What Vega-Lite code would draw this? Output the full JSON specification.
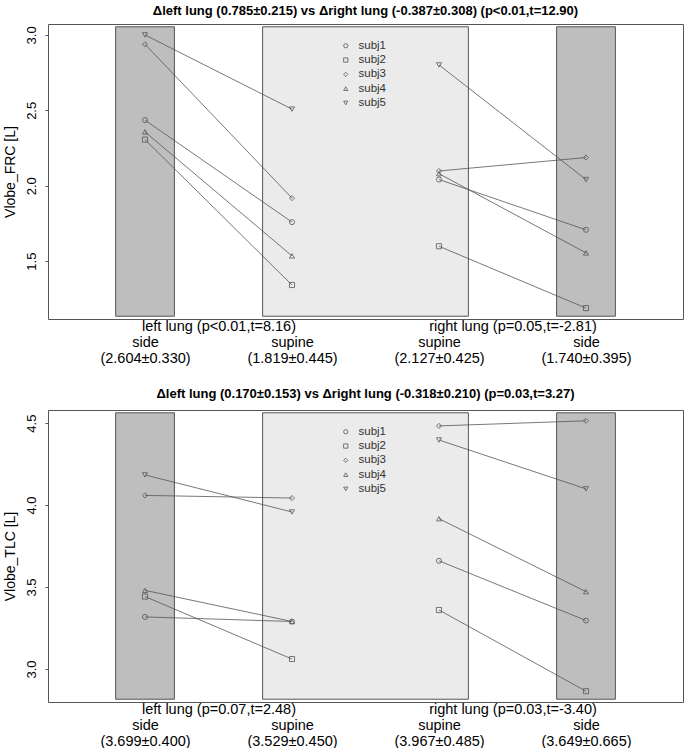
{
  "$schema": "https://vega.github.io/schema/vega-lite/v6.json",
  "padding": {"left": 2, "top": 4, "right": 0, "bottom": 0},
  "background": "white",
  "spacing": 22,
  "config": {
    "font": "Liberation Sans",
    "view": {"stroke": "#555555", "strokeWidth": 1},
    "axis": {"grid": false, "domain": false, "labelFont": "Liberation Sans", "titleFont": "Liberation Sans", "labelColor": "#000000", "titleColor": "#000000", "titleFontWeight": "normal"},
    "title": {"font": "Liberation Sans", "fontSize": 13, "fontWeight": "bold", "color": "#000000", "frame": "group", "offset": 6},
    "legend": {"orient": "none", "legendX": 292, "legendY": 16, "title": null, "labelFontSize": 11.5, "labelFont": "Liberation Sans", "symbolSize": 18, "symbolStrokeColor": "#555555", "symbolStrokeWidth": 0.8, "symbolFillColor": "transparent", "rowPadding": 1.3, "labelOffset": 7, "labelColor": "#333333"}
  },
  "datasets": {
    "frc": [
      {"subj": "subj1", "lung": "left", "pos": 1, "v": 2.435},
      {"subj": "subj1", "lung": "left", "pos": 2, "v": 1.759},
      {"subj": "subj1", "lung": "right", "pos": 3, "v": 2.041},
      {"subj": "subj1", "lung": "right", "pos": 4, "v": 1.708},
      {"subj": "subj2", "lung": "left", "pos": 1, "v": 2.306},
      {"subj": "subj2", "lung": "left", "pos": 2, "v": 1.342},
      {"subj": "subj2", "lung": "right", "pos": 3, "v": 1.599},
      {"subj": "subj2", "lung": "right", "pos": 4, "v": 1.189},
      {"subj": "subj3", "lung": "left", "pos": 1, "v": 2.938},
      {"subj": "subj3", "lung": "left", "pos": 2, "v": 1.918},
      {"subj": "subj3", "lung": "right", "pos": 3, "v": 2.098},
      {"subj": "subj3", "lung": "right", "pos": 4, "v": 2.187},
      {"subj": "subj4", "lung": "left", "pos": 1, "v": 2.357},
      {"subj": "subj4", "lung": "left", "pos": 2, "v": 1.535},
      {"subj": "subj4", "lung": "right", "pos": 3, "v": 2.080},
      {"subj": "subj4", "lung": "right", "pos": 4, "v": 1.555},
      {"subj": "subj5", "lung": "left", "pos": 1, "v": 3.000},
      {"subj": "subj5", "lung": "left", "pos": 2, "v": 2.508},
      {"subj": "subj5", "lung": "right", "pos": 3, "v": 2.801},
      {"subj": "subj5", "lung": "right", "pos": 4, "v": 2.041}
    ],
    "tlc": [
      {"subj": "subj1", "lung": "left", "pos": 1, "v": 3.318},
      {"subj": "subj1", "lung": "left", "pos": 2, "v": 3.290},
      {"subj": "subj1", "lung": "right", "pos": 3, "v": 3.660},
      {"subj": "subj1", "lung": "right", "pos": 4, "v": 3.296},
      {"subj": "subj2", "lung": "left", "pos": 1, "v": 3.442},
      {"subj": "subj2", "lung": "left", "pos": 2, "v": 3.061},
      {"subj": "subj2", "lung": "right", "pos": 3, "v": 3.360},
      {"subj": "subj2", "lung": "right", "pos": 4, "v": 2.865},
      {"subj": "subj3", "lung": "left", "pos": 1, "v": 4.059},
      {"subj": "subj3", "lung": "left", "pos": 2, "v": 4.043},
      {"subj": "subj3", "lung": "right", "pos": 3, "v": 4.483},
      {"subj": "subj3", "lung": "right", "pos": 4, "v": 4.514},
      {"subj": "subj4", "lung": "left", "pos": 1, "v": 3.480},
      {"subj": "subj4", "lung": "left", "pos": 2, "v": 3.290},
      {"subj": "subj4", "lung": "right", "pos": 3, "v": 3.917},
      {"subj": "subj4", "lung": "right", "pos": 4, "v": 3.472},
      {"subj": "subj5", "lung": "left", "pos": 1, "v": 4.184},
      {"subj": "subj5", "lung": "left", "pos": 2, "v": 3.958},
      {"subj": "subj5", "lung": "right", "pos": 3, "v": 4.397},
      {"subj": "subj5", "lung": "right", "pos": 4, "v": 4.099}
    ],
    "bands_frc": [
      {"kind": "supine", "x0": 1.8, "x1": 3.2, "y0": 1.135, "y1": 3.054},
      {"kind": "side", "x0": 0.8, "x1": 1.2, "y0": 1.135, "y1": 3.054},
      {"kind": "side", "x0": 3.8, "x1": 4.2, "y0": 1.135, "y1": 3.054}
    ],
    "bands_tlc": [
      {"kind": "supine", "x0": 1.8, "x1": 3.2, "y0": 2.816, "y1": 4.563},
      {"kind": "side", "x0": 0.8, "x1": 1.2, "y0": 2.816, "y1": 4.563},
      {"kind": "side", "x0": 3.8, "x1": 4.2, "y0": 2.816, "y1": 4.563}
    ]
  },
  "resolve": {"scale": {"shape": "independent", "y": "independent", "x": "independent", "fill": "independent"}},
  "vconcat": [
    {
      "width": 635,
      "height": 295,
      "title": {"text": "Δleft lung (0.785±0.215) vs Δright lung (-0.387±0.308) (p<0.01,t=12.90)"},
      "layer": [
        {
          "data": {"name": "bands_frc"},
          "mark": {"type": "rect", "stroke": "#555555", "strokeWidth": 1},
          "encoding": {
            "x": {"field": "x0", "type": "quantitative", "title": null, "scale": {"domain": [0.34, 4.66], "nice": false, "zero": false},
              "axis": {"values": [1, 1.5, 2, 3, 3.5, 4], "ticks": false, "labelPadding": 0, "labelBaseline": "top", "labelFontSize": 14.5, "labelLineHeight": 16, "labelOverlap": false, "labelBound": false, "labelFlush": false,
                "labelExpr": "datum.value == 1 ? [' ', 'side', '(2.604±0.330)'] : datum.value == 1.5 ? 'left lung (p<0.01,t=8.16)' : datum.value == 2 ? [' ', 'supine', '(1.819±0.445)'] : datum.value == 3 ? [' ', 'supine', '(2.127±0.425)'] : datum.value == 3.5 ? 'right lung (p=0.05,t=-2.81)' : [' ', 'side', '(1.740±0.395)']"}},
            "x2": {"field": "x1"},
            "y": {"field": "y0", "type": "quantitative", "title": "Vlobe_FRC [L]", "scale": {"domain": [1.1166, 3.0724], "nice": false, "zero": false},
              "axis": {"values": [1.5, 2, 2.5, 3], "format": ".1f", "labelAngle": -90, "labelAlign": "center", "labelBaseline": "bottom", "labelFontSize": 13, "tickSize": 3, "tickColor": "#555555", "labelPadding": 7, "titleFontSize": 14, "titlePadding": 8}},
            "y2": {"field": "y1"},
            "fill": {"field": "kind", "type": "nominal", "scale": {"domain": ["side", "supine"], "range": ["#bebebe", "#ebebeb"]}, "legend": null}
          }
        },
        {
          "data": {"name": "frc"},
          "mark": {"type": "line", "color": "#555555", "strokeWidth": 0.8},
          "encoding": {
            "x": {"field": "pos", "type": "quantitative", "title": null},
            "y": {"field": "v", "type": "quantitative", "title": "Vlobe_FRC [L]"},
            "detail": [{"field": "subj"}, {"field": "lung"}]
          }
        },
        {
          "data": {"name": "frc"},
          "mark": {"type": "point", "filled": false, "color": "#555555", "size": 26, "strokeWidth": 0.8, "opacity": 1},
          "encoding": {
            "x": {"field": "pos", "type": "quantitative", "title": null},
            "y": {"field": "v", "type": "quantitative", "title": "Vlobe_FRC [L]"},
            "shape": {"field": "subj", "type": "nominal", "scale": {"domain": ["subj1", "subj2", "subj3", "subj4", "subj5"], "range": ["circle", "square", "diamond", "triangle-up", "triangle-down"]}}
          }
        }
      ]
    },
    {
      "width": 635,
      "height": 292,
      "title": {"text": "Δleft lung (0.170±0.153) vs Δright lung (-0.318±0.210) (p=0.03,t=3.27)", "offset": 9},
      "layer": [
        {
          "data": {"name": "bands_tlc"},
          "mark": {"type": "rect", "stroke": "#555555", "strokeWidth": 1},
          "encoding": {
            "x": {"field": "x0", "type": "quantitative", "title": null, "scale": {"domain": [0.34, 4.66], "nice": false, "zero": false},
              "axis": {"values": [1, 1.5, 2, 3, 3.5, 4], "ticks": false, "labelPadding": 0, "labelBaseline": "top", "labelFontSize": 14.5, "labelLineHeight": 16, "labelOverlap": false, "labelBound": false, "labelFlush": false,
                "labelExpr": "datum.value == 1 ? [' ', 'side', '(3.699±0.400)'] : datum.value == 1.5 ? 'left lung (p=0.07,t=2.48)' : datum.value == 2 ? [' ', 'supine', '(3.529±0.450)'] : datum.value == 3 ? [' ', 'supine', '(3.967±0.485)'] : datum.value == 3.5 ? 'right lung (p=0.03,t=-3.40)' : [' ', 'side', '(3.649±0.665)']"}},
            "x2": {"field": "x1"},
            "y": {"field": "y0", "type": "quantitative", "title": "Vlobe_TLC [L]", "scale": {"domain": [2.799, 4.580], "nice": false, "zero": false},
              "axis": {"values": [3, 3.5, 4, 4.5], "format": ".1f", "labelAngle": -90, "labelAlign": "center", "labelBaseline": "bottom", "labelFontSize": 13, "tickSize": 3, "tickColor": "#555555", "labelPadding": 7, "titleFontSize": 14, "titlePadding": 8}},
            "y2": {"field": "y1"},
            "fill": {"field": "kind", "type": "nominal", "scale": {"domain": ["side", "supine"], "range": ["#bebebe", "#ebebeb"]}, "legend": null}
          }
        },
        {
          "data": {"name": "tlc"},
          "mark": {"type": "line", "color": "#555555", "strokeWidth": 0.8},
          "encoding": {
            "x": {"field": "pos", "type": "quantitative", "title": null},
            "y": {"field": "v", "type": "quantitative", "title": "Vlobe_TLC [L]"},
            "detail": [{"field": "subj"}, {"field": "lung"}]
          }
        },
        {
          "data": {"name": "tlc"},
          "mark": {"type": "point", "filled": false, "color": "#555555", "size": 26, "strokeWidth": 0.8, "opacity": 1},
          "encoding": {
            "x": {"field": "pos", "type": "quantitative", "title": null},
            "y": {"field": "v", "type": "quantitative", "title": "Vlobe_TLC [L]"},
            "shape": {"field": "subj", "type": "nominal", "scale": {"domain": ["subj1", "subj2", "subj3", "subj4", "subj5"], "range": ["circle", "square", "diamond", "triangle-up", "triangle-down"]}}
          }
        }
      ]
    }
  ]
}
